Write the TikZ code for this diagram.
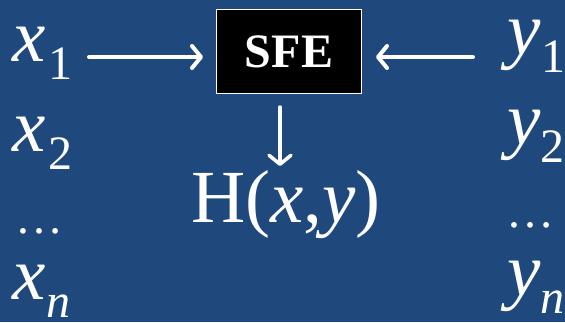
\documentclass[tikz,border=0pt]{standalone}
\usepackage{fontspec}
\setmainfont{Liberation Serif}[ItalicFont={Liberation Serif Italic}, BoldFont={Liberation Serif Bold}]
\usetikzlibrary{arrows.meta}
\definecolor{bgblue}{HTML}{1F497D}
\newcommand{\bigfs}{\fontsize{75}{75}\selectfont}
\newcommand{\subfs}{\fontsize{48}{48}\selectfont}
\newcommand{\sbx}[1]{\raisebox{-18pt}{\subfs #1}}
\begin{document}
\begin{tikzpicture}[x=1pt,y=-1pt,
  lbl/.style={text=white, inner sep=0pt, font=\bigfs},
  dotsl/.style={text=white, inner sep=0pt, font=\subfs},
  arr/.style={white, line width=4pt, line cap=round,
    -{Straight Barb[length=9pt,width=22pt,round]}},
  sfebox/.style={draw=white, line width=1pt, fill=black, text=white,
    minimum width=145pt, minimum height=84pt, inner sep=0pt,
    font=\fontsize{48}{48}\selectfont\bfseries}]
\fill[bgblue] (0,0) rectangle (565,322);
\useasboundingbox (0,0) rectangle (565,322);
% SFE box
\node[sfebox] (sfe) at (289,51.5) {SFE};
% left column
\node[lbl, anchor=base west] (x1) at (12,61) {\textit{x}\kern3pt\sbx{1}};
\node[lbl, anchor=base west] (x2) at (12,151) {\textit{x}\kern3pt\sbx{2}};
\node[dotsl] (xd) at (40,231) {…};
\node[lbl, anchor=base west] (xn) at (12,299) {\textit{x}\kern1pt\sbx{\textit{n}}};
% right column
\node[lbl, anchor=base west] (y1) at (507,54) {\textit{y}\kern1pt\sbx{1}};
\node[lbl, anchor=base west] (y2) at (507,144) {\textit{y}\kern0pt\sbx{2}};
\node[dotsl] (yd) at (530,225) {…};
\node[lbl, anchor=base west] (yn) at (507,295) {\textit{y}\kern0pt\sbx{\textit{n}}};
% output
\node[lbl, anchor=base west] (h) at (191,222) {H(\textit{x},\textit{y})};
% connectors
\coordinate (a1) at (89,57);
\coordinate (b1) at (473,57);
\coordinate (tipd) at (280,166);
\draw[arr, shorten >=13pt] (a1) -- (sfe.west |- a1);
\draw[arr, shorten >=14pt] (b1) -- (sfe.east |- b1);
\draw[arr, line width=3.5pt, shorten <=13pt] (sfe.south -| tipd) -- (tipd);
\end{tikzpicture}
\end{document}
